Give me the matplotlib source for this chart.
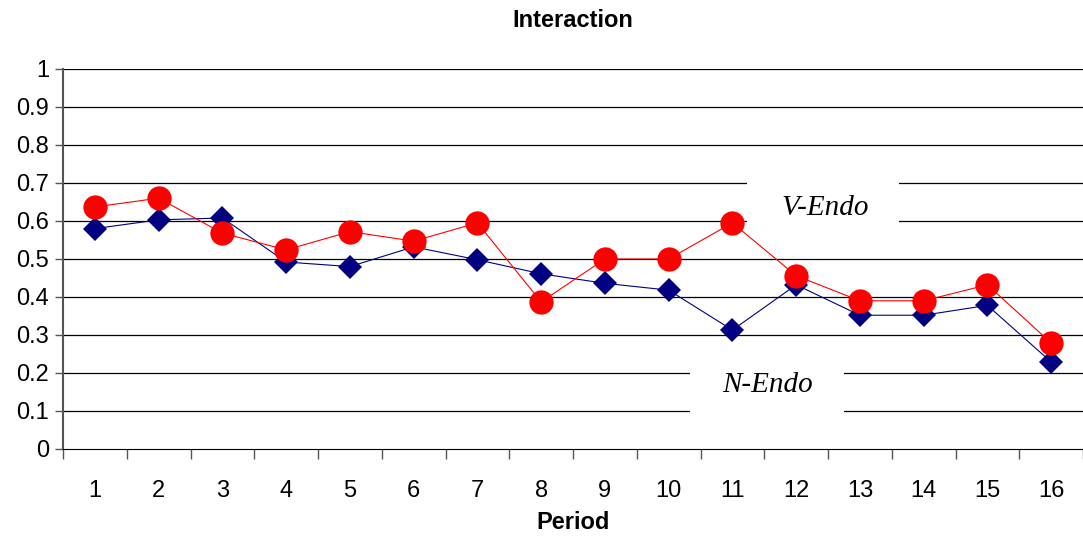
import numpy as np
import matplotlib.pyplot as plt
from matplotlib.patches import Rectangle

periods = list(range(1, 17))
n_endo = [0.58, 0.603, 0.608, 0.492, 0.48, 0.532, 0.498, 0.461, 0.436, 0.418,
          0.313, 0.432, 0.352, 0.352, 0.378, 0.229]
v_endo = [0.637, 0.66, 0.568, 0.524, 0.572, 0.547, 0.595, 0.387, 0.5, 0.5,
          0.595, 0.456, 0.39, 0.39, 0.432, 0.279]

plt.rcParams['font.family'] = ['Liberation Sans', 'DejaVu Sans']

fig = plt.figure(figsize=(10.83, 5.39), dpi=100)
ax = fig.add_axes([0.0582, 0.167, 0.9418, 0.705])

x = np.arange(len(periods))
for yv in np.arange(0.1, 1.01, 0.1):
    ax.axhline(yv, color='black', lw=0.9, zorder=1)

ax.plot(x, n_endo, color='#000080', lw=0.8, marker='D', markersize=12.5,
        markeredgewidth=0, zorder=3)
ax.plot(x, v_endo, color='#FF0000', lw=0.8, marker='o', markersize=17.5,
        markeredgewidth=0, zorder=4)

# white label boxes hiding the gridlines
ax.add_patch(Rectangle((0.6706, 0.594), 0.149, 0.114, transform=ax.transAxes,
                       facecolor='white', edgecolor='none', zorder=2))
ax.add_patch(Rectangle((0.615, 0.095), 0.151, 0.12, transform=ax.transAxes,
                       facecolor='white', edgecolor='none', zorder=2))
ax.text(11.46, 0.633, 'V-Endo', family='Liberation Serif', style='italic',
        fontsize=21, ha='center', va='center', zorder=2.5)
ax.text(10.56, 0.169, 'N-Endo', family='Liberation Serif', style='italic',
        fontsize=21, ha='center', va='center', zorder=2.5)

ax.set_xlim(-0.5, len(periods) - 0.5)
ax.set_ylim(0, 1)
ax.set_yticks(np.arange(0, 1.01, 0.1))
ax.set_yticklabels(['0', '0.1', '0.2', '0.3', '0.4', '0.5', '0.6', '0.7', '0.8', '0.9', '1'])
ax.set_xticks(x)
ax.set_xticklabels([str(p) for p in periods])
ax.set_xticks(np.arange(-0.5, len(periods), 1), minor=True)
ax.tick_params(axis='x', which='major', length=0, pad=22, labelsize=17)
ax.tick_params(axis='x', which='minor', length=7, width=1, color='#555555')
ax.tick_params(axis='y', length=6, width=1, color='#555555', labelsize=17, pad=4)

ax.spines['top'].set_visible(False)
ax.spines['right'].set_visible(False)
ax.spines['left'].set_color('#555555')
ax.spines['left'].set_linewidth(1.5)
ax.spines['bottom'].set_color('black')

ax.set_title('Interaction', fontsize=17, fontweight='bold', pad=30)
ax.set_xlabel('Period', fontsize=17, fontweight='bold', labelpad=7)

plt.savefig('out.png', dpi=100)
